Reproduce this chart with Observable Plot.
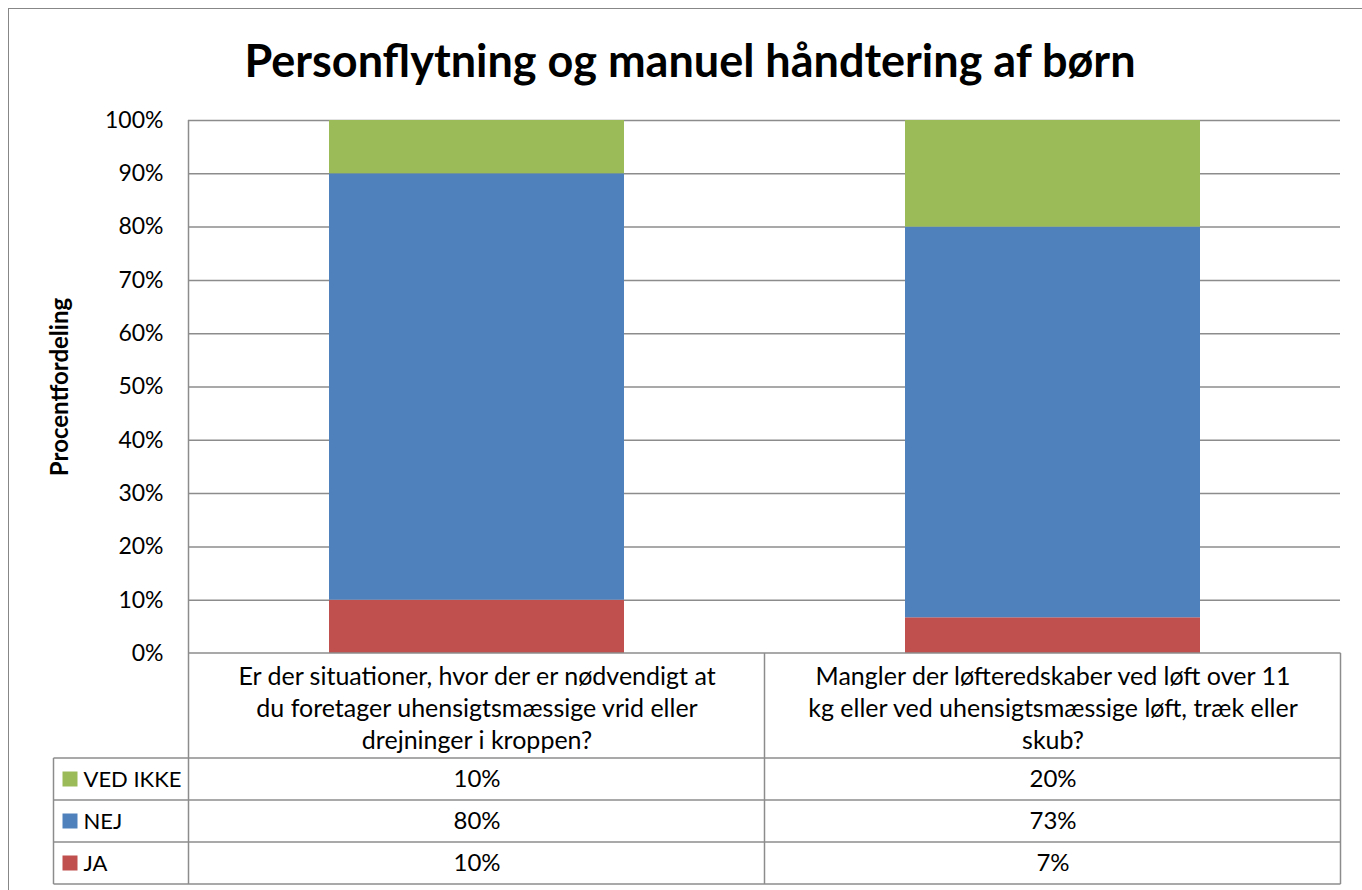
<!DOCTYPE html>
<html>
<head>
<meta charset="utf-8">
<script src="https://cdn.jsdelivr.net/npm/d3@7"></script>
<script src="https://cdn.jsdelivr.net/npm/@observablehq/plot@0.6"></script>
<style>
  html, body { margin: 0; padding: 0; background: #fff; }
  #wrap { position: relative; width: 1362px; height: 890px; overflow: hidden; font-family: Lato, "Open Sans", sans-serif; }
  #border { position: absolute; left: 8px; top: 8px; width: 1400px; height: 1000px; border: 1.5px solid #878787; box-sizing: border-box; }
  #title { position: relative; height: 80px; padding-top: 20px; line-height: 80px; text-align: center; padding-left: 18px; font-size: 45px; font-weight: bold; color: #000; }
  #chart { position: relative; }
</style>
</head>
<body>
<div id="wrap">
  <div id="border"></div>
  <div id="title">Personflytning og manuel håndtering af børn</div>
  <div id="chart"></div>
</div>
<script>
// ---- data ----
const categories = [
  "Er der situationer, hvor der er nødvendigt at\ndu foretager uhensigtsmæssige vrid eller\ndrejninger i kroppen?",
  "Mangler der løfteredskaber ved løft over 11\nkg eller ved uhensigtsmæssige løft, træk eller\nskub?"
];
const seriesNames = ["JA", "NEJ", "VED IKKE"];          // stacking order, bottom to top
const tableOrder = ["VED IKKE", "NEJ", "JA"];           // table rows, top to bottom
const jaValues = [10, 6.7];
const nejValues = [80, 73.3];
const vedIkkeValues = [10, 20];
const seriesColors = ["#C0504D", "#4F81BD", "#9BBB59"];
const yTicks = [0, 10, 20, 30, 40, 50, 60, 70, 80, 90, 100];
const yLabel = "Procentfordeling";

const valuesBySeries = {"JA": jaValues, "NEJ": nejValues, "VED IKKE": vedIkkeValues};
const rows = [];
for (const s of seriesNames) {
  categories.forEach((c, i) => rows.push({category: c, series: s, value: valuesBySeries[s][i]}));
}
const colorOf = s => seriesColors[seriesNames.indexOf(s)];
const fmt = v => d3.format(".0f")(v) + "%";

const gridColor = "#8c8c8c";
const rowH = 42, headH = 105;

// custom mark: table grid lines + legend swatches, positioned from the x scale
function tableMark(index, scales, values, dimensions) {
  const x = scales.x;
  const {width, height, marginLeft, marginRight, marginTop, marginBottom} = dimensions;
  const bottom = height - marginBottom;
  const bw = typeof x.bandwidth === "function" ? x.bandwidth() : x.bandwidth;
  const step = typeof x.step === "function" ? x.step() : (x(categories[1]) - x(categories[0]));
  const bounds = categories.map(c => x(c) + bw / 2 - step / 2);
  bounds.push(bounds[bounds.length - 1] + step);
  const left = bounds[0], right = bounds[bounds.length - 1];
  const tableBottom = bottom + headH + rowH * tableOrder.length;
  const legendLeft = left - 135;
  const g = d3.create("svg:g").attr("stroke", gridColor).attr("stroke-width", 1.5).attr("fill", "none");
  bounds.forEach((bx, i) => {
    g.append("line").attr("x1", bx).attr("x2", bx)
      .attr("y1", i === 0 ? marginTop : bottom).attr("y2", tableBottom);
  });
  g.append("line").attr("x1", legendLeft).attr("x2", legendLeft)
    .attr("y1", bottom + headH).attr("y2", tableBottom);
  g.append("line").attr("x1", left).attr("x2", right).attr("y1", bottom).attr("y2", bottom);
  for (let r = 0; r <= tableOrder.length; r++) {
    const yy = bottom + headH + r * rowH;
    g.append("line").attr("x1", legendLeft).attr("x2", right).attr("y1", yy).attr("y2", yy);
  }
  tableOrder.forEach((s, r) => {
    const cy = bottom + headH + r * rowH + rowH / 2;
    g.append("rect").attr("x", left - 126).attr("y", cy - 7.5).attr("width", 15).attr("height", 15)
      .attr("fill", colorOf(s)).attr("stroke", "none");
  });
  return g.node();
}

const valueMarks = tableOrder.map((s, r) =>
  Plot.text(rows.filter(d => d.series === s), {
    x: "category", text: d => fmt(d.value), frameAnchor: "bottom", lineAnchor: "middle",
    dy: headH + r * rowH + rowH / 2, fontSize: 24, fill: "#000"
  })
);
const legendMarks = tableOrder.map((s, r) =>
  Plot.text([s], {
    text: d => d, frameAnchor: "bottom-left", textAnchor: "start", lineAnchor: "middle",
    dx: -105, dy: headH + r * rowH + rowH / 2, fontSize: 22, fill: "#000"
  })
);

const chart = Plot.plot({
  width: 1362,
  height: 790,
  marginLeft: 188,
  marginRight: 22,
  marginTop: 20,
  marginBottom: 237,
  style: {fontFamily: "Lato, 'Open Sans', sans-serif", fontSize: "21px", color: "#000", background: "transparent", overflow: "visible"},
  x: {domain: categories, paddingInner: 0.488, paddingOuter: 0.244, axis: null},
  y: {domain: [0, 100], axis: null},
  color: {domain: seriesNames, range: seriesColors},
  marks: [
    Plot.ruleY(yTicks.slice(1), {stroke: gridColor, strokeWidth: 1.5}),
    Plot.barY(rows, {x: "category", y: "value", fill: "series"}),
    Plot.axisY({ticks: yTicks, tickFormat: d => d + "%", tickSize: 0, tickPadding: 25, fontSize: 23, label: null}),
    Plot.text([yLabel], {text: d => d, frameAnchor: "left", textAnchor: "middle", lineAnchor: "middle", dx: -128, rotate: -90, fontWeight: "bold", fontSize: 24, fill: "#000"}),
    tableMark,
    Plot.text(categories, {x: d => d, text: d => d, frameAnchor: "bottom", lineAnchor: "middle", dy: 53, lineHeight: 1.28, fontSize: 25, fill: "#000"}),
    ...valueMarks,
    ...legendMarks
  ]
});
document.getElementById("chart").appendChild(chart);
</script>
</body>
</html>
